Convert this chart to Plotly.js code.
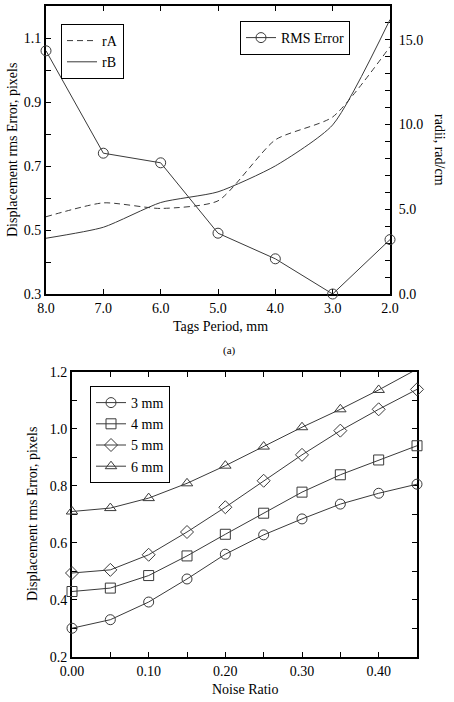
<!DOCTYPE html>
<html><head><meta charset="utf-8">
<script src="https://cdn.plot.ly/plotly-3.0.1.min.js"></script>
<style>html,body{margin:0;padding:0;background:#fff}</style>
</head><body><div id="chart" style="width:454px;height:702px"></div>
<script>
// ---- top panel (a) ----
const periods   = [8.0, 7.0, 6.0, 5.0, 4.0, 3.0, 2.0];
const rmsError  = [1.06, 0.74, 0.71, 0.49, 0.41, 0.30, 0.47];
const radiiA    = [4.56, 5.38, 5.05, 5.50, 9.10, 10.45, 14.6];
const radiiB    = [3.29, 3.94, 5.40, 6.03, 7.56, 9.98, 16.2];
// ---- bottom panel ----
const noiseRatio = [0.00, 0.05, 0.10, 0.15, 0.20, 0.25, 0.30, 0.35, 0.40, 0.45];
const err3mm = [0.300, 0.330, 0.392, 0.473, 0.560, 0.628, 0.684, 0.736, 0.774, 0.806];
const err4mm = [0.429, 0.441, 0.485, 0.554, 0.630, 0.704, 0.778, 0.839, 0.891, 0.941];
const err5mm = [0.494, 0.505, 0.558, 0.638, 0.725, 0.818, 0.909, 0.994, 1.069, 1.139];
const err6mm = [0.710, 0.722, 0.757, 0.809, 0.871, 0.938, 1.006, 1.069, 1.137, 1.210];
const seriesNames = ['3 mm', '4 mm', '5 mm', '6 mm'];

const W = 454, H = 702;
const FONT = 'Liberation Serif, "Times New Roman", serif';
const LC = '#3a3a3a';
const px = v => v / W;
const py = v => 1 - v / H;

function ax(extra) {
  return Object.assign({
    showline: true, linecolor: '#000', linewidth: 2,
    ticks: 'inside', ticklen: 5, tickwidth: 1, tickcolor: '#000',
    showgrid: false, zeroline: false, fixedrange: true,
    tickfont: {family: FONT, size: 14, color: '#000'},
    layer: 'below traces'
  }, extra);
}

const mk = sym => ({symbol: sym, size: 10, color: LC, line: {color: LC, width: 1}});

const traces = [
  {x: periods, y: radiiA, name: 'rA', xaxis: 'x', yaxis: 'y2', mode: 'lines',
   line: {color: LC, width: 1, dash: '6px,4px', shape: 'spline', smoothing: 0.6}, legend: 'legend'},
  {x: periods, y: radiiB, name: 'rB', xaxis: 'x', yaxis: 'y2', mode: 'lines',
   line: {color: LC, width: 1, shape: 'spline', smoothing: 0.6}, legend: 'legend'},
  {x: periods, y: rmsError, name: 'RMS Error', xaxis: 'x', yaxis: 'y', mode: 'lines+markers',
   line: {color: LC, width: 1}, marker: mk('circle-open'), cliponaxis: false, legend: 'legend2'},
];
const bottomSeries = [err3mm, err4mm, err5mm, err6mm];
const syms = ['circle-open', 'square-open', 'diamond-open', 'triangle-up-open'];
bottomSeries.forEach((s, i) => traces.push({
  x: noiseRatio, y: s, name: seriesNames[i], xaxis: 'x2', yaxis: 'y3',
  mode: 'lines+markers', line: {color: LC, width: 1}, marker: mk(syms[i]),
  cliponaxis: false, legend: 'legend3'
}));

const legStyle = {bgcolor: '#fff', bordercolor: '#000', borderwidth: 1,
  font: {family: FONT, size: 14, color: '#000'}, tracegroupgap: 0,
  xanchor: 'left', yanchor: 'top', itemclick: false, itemdoubleclick: false};

const ann = (text, x, y, size, angle) => ({text, x: px(x), y: py(y), xref: 'paper', yref: 'paper',
  showarrow: false, textangle: angle || 0, xanchor: 'center', yanchor: 'middle',
  font: {family: FONT, size: size, color: '#000'}});

const layout = {
  width: W, height: H, margin: {l: 0, r: 0, t: 0, b: 0},
  paper_bgcolor: '#fff', plot_bgcolor: '#fff', showlegend: true,
  xaxis: ax({domain: [px(46), px(390)], anchor: 'y', range: [8, 2], tick0: 2, dtick: 1,
    tickformat: '.1f', mirror: 'ticks'}),
  yaxis: ax({domain: [py(294), py(6)], anchor: 'x', range: [0.3, 1.2], tick0: 0.3, dtick: 0.2,
    tickformat: '.1f', minor: {tick0: 0.3, dtick: 0.1, ticks: 'inside', ticklen: 5, tickcolor: '#000'}}),
  yaxis2: ax({overlaying: 'y', side: 'right', anchor: 'x', range: [0, 17], tick0: 0, dtick: 5,
    tickformat: '.1f', ticklabelstandoff: 4, minor: {dtick: 1, ticks: 'inside', ticklen: 5, tickcolor: '#000'}}),
  xaxis2: ax({domain: [px(72), px(417)], anchor: 'y3', range: [0, 0.45], tick0: 0, dtick: 0.1,
    tickformat: '.2f', mirror: 'ticks', minor: {dtick: 0.05, ticks: 'inside', ticklen: 5, tickcolor: '#000'}}),
  yaxis3: ax({domain: [py(656.7), py(372)], anchor: 'x2', range: [0.2, 1.2], tick0: 0.2, dtick: 0.2,
    tickformat: '.1f', mirror: 'ticks', minor: {dtick: 0.1, ticks: 'inside', ticklen: 5, tickcolor: '#000'}}),
  legend: Object.assign({}, legStyle, {x: px(61), y: py(24)}),
  legend2: Object.assign({}, legStyle, {x: px(240), y: py(21)}),
  legend3: Object.assign({}, legStyle, {x: px(90), y: py(386)}),
  annotations: [
    ann('Displacement rms Error, pixels', 12, 150, 14, -90),
    ann('radii, rad/cm', 440, 150, 14, 90),
    ann('Tags Period, mm', 220, 326, 14),
    ann('(a)', 229, 350, 11),
    ann('Displacement rms Error, pixels', 32, 514, 14, -90),
    ann('Noise Ratio', 245, 689, 14)
  ]
};

Plotly.newPlot('chart', traces, layout, {displayModeBar: false, staticPlot: true});
</script></body></html>
